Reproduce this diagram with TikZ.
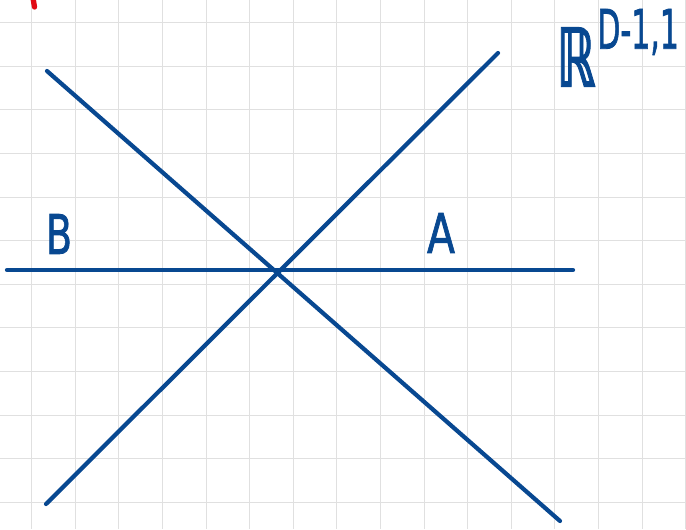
\documentclass[tikz,border=0pt]{standalone}
\usepackage{amsmath,amssymb}
\usepackage{fontspec}
\setsansfont{DejaVu Sans}[FakeBold=1.6]
\usepackage{tikz}
\usetikzlibrary{positioning}
\definecolor{inkblue}{RGB}{8,72,145}
\definecolor{gridgray}{RGB}{224,224,224}
\definecolor{inkred}{RGB}{225,10,20}

\begin{document}
\begin{tikzpicture}[
  x=0.02cm, y=-0.02cm,
  gridline/.style={draw=gridgray, line width=0.6pt},
  ink/.style={draw=inkblue, line width=2.4pt, line cap=round},
  tag/.style={text=inkblue, inner sep=0pt, font=\sffamily\bfseries\fontsize{31}{34}\selectfont}
  ]
  \useasboundingbox (0,0) rectangle (686,529);
  \fill[white] (0,0) rectangle (686,529);
  % squared paper
  \foreach \i in {0,...,15}
    \draw[gridline] (31.7+43.6*\i,0) -- (31.7+43.6*\i,529);
  \foreach \j in {0,...,11}
    \draw[gridline] (0,22.7+43.6*\j) -- (686,22.7+43.6*\j);
  % red stroke cut off at the top
  \coordinate (redtop) at (33,-2);
  \coordinate (redend) at (34.5,7);
  \draw[draw=inkred, line width=3pt, line cap=round] (redtop) -- (redend);
  % the three lines
  \coordinate (hl) at (7,270);
  \coordinate (hr) at (573,270);
  \coordinate (dtl) at (47,71);
  \coordinate (dbr) at (560,521);
  \coordinate (dbl) at (46,504);
  \coordinate (dtr) at (498,53);
  \draw[ink] (hl) -- (hr);
  \draw[ink] (dtl) -- (dbr);
  \draw[ink] (dbl) -- (dtr);
  % labels
  \node[tag, font=\sffamily\mdseries\fontsize{31}{34}\selectfont] (b) at (59,234) {\scalebox{0.7}[1]{B}};
  \node[tag, font=\sffamily\mdseries\fontsize{31}{34}\selectfont] (a) at (441,233) {\scalebox{0.75}[1]{A}};
  \node[tag, font=\sffamily\bfseries\fontsize{46}{50}\selectfont] (rr) at (576,57) {\scalebox{0.6}[1]{ℝ}};
  \node[tag, anchor=west, font=\sffamily\mdseries\fontsize{31}{34}\selectfont] (dim) at (597,32) {\scalebox{0.55}[1]{D-1,1}};
\end{tikzpicture}
\end{document}
